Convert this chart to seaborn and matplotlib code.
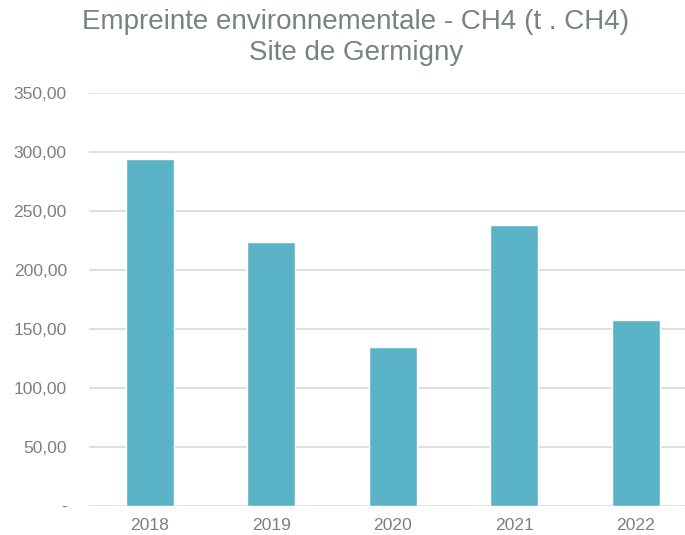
import matplotlib
matplotlib.use("Agg")
import matplotlib.pyplot as plt
import seaborn as sns
import pandas as pd

years = ["2018", "2019", "2020", "2021", "2022"]
ch4 = [294.0, 224.0, 134.5, 237.8, 157.3]
yticks = [0, 50, 100, 150, 200, 250, 300, 350]

df = pd.DataFrame({"Année": years, "CH4": ch4})

sns.set_theme(style="white")
plt.rcParams["font.family"] = ["Liberation Sans", "DejaVu Sans"]

fig = plt.figure(figsize=(6.85, 5.35), dpi=100)
ax = fig.add_axes([89 / 685, 1 - 506 / 535, 596 / 685, (506 - 93) / 535])

sns.barplot(data=df, x="Année", y="CH4", color="#5AB3C6", width=0.395,
            saturation=1, ax=ax, zorder=3)

ax.set_xlim(-0.5, 4.405)
ax.set_ylim(0, 350)
ax.set_yticks(yticks)
ax.set_yticklabels(["-" if v == 0 else f"{v:.2f}".replace(".", ",") for v in yticks])
ax.grid(axis="y", color="#D9D9D9", linewidth=1.2, zorder=0)
ax.set_axisbelow(True)
for s in ax.spines.values():
    s.set_visible(False)
ax.tick_params(axis="both", length=0, labelsize=12.6, colors="#7F7F7F")
ax.tick_params(axis="y", pad=16)
ax.tick_params(axis="x", pad=9)
ax.set_xlabel("")
ax.set_ylabel("")

title_color = "#788282"
fig.text(356 / 685, 1 - 22 / 535, "Empreinte environnementale - CH4 (t . CH4)",
         ha="center", va="center", fontsize=20, color=title_color)
fig.text(356 / 685, 1 - 53 / 535, "Site de Germigny",
         ha="center", va="center", fontsize=20, color=title_color)

fig.savefig("out.png", dpi=100)
